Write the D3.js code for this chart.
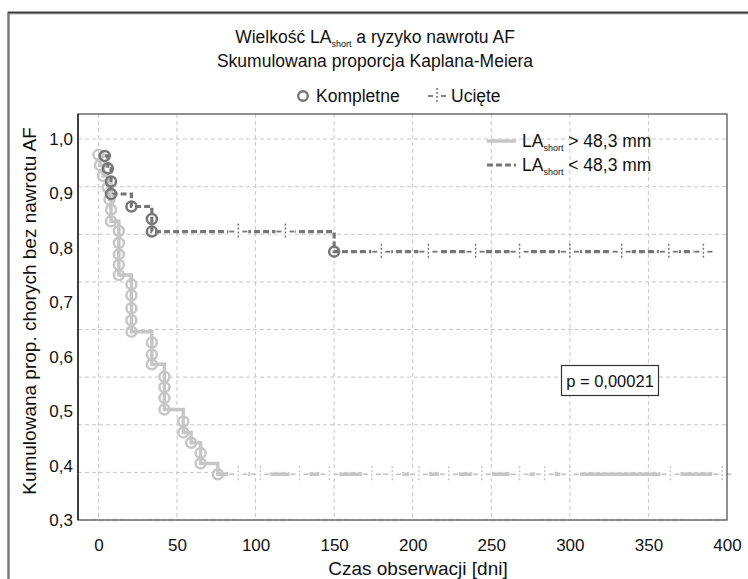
<!DOCTYPE html>
<html>
<head>
<meta charset="utf-8">
<script src="https://cdn.jsdelivr.net/npm/d3@7"></script>
<style>
  body { margin: 0; background: #fff; }
  text { font-family: "Liberation Sans", Arial, sans-serif; fill: #111; }
</style>
</head>
<body>
<svg id="chart" width="748" height="579"></svg>
<script>
// ---- data ----
// group LA_short > 48,3 mm (light, solid)
const lightEventDays = [0, 1, 3, 6, 7, 8, 8, 13, 13, 13, 13, 13, 21, 21, 21, 21, 21,
  34, 34, 34, 42, 42, 42, 42, 54, 54, 59, 65, 65, 76];
const lightEventS = [0.971, 0.952, 0.932, 0.911, 0.889, 0.870, 0.849, 0.831, 0.809, 0.788,
  0.769, 0.750, 0.733, 0.713, 0.689, 0.667, 0.646, 0.626, 0.604, 0.586, 0.563, 0.544,
  0.524, 0.503, 0.481, 0.461, 0.442, 0.423, 0.404, 0.384];
const lightCensorDays = [89, 103, 128, 147, 174, 187, 204, 223, 244, 268, 284, 300, 364, 397];
const lightEnd = 399;

// group LA_short < 48,3 mm (dark, dashed)
const darkEventDays = [4, 6, 8, 8, 21, 34, 34, 150];
const darkEventS = [0.969, 0.946, 0.922, 0.899, 0.876, 0.853, 0.830, 0.793];
const darkCensorDays = [89, 119, 180, 210, 240, 268, 300, 333, 363, 385];
const darkEnd = 386;

const xTicks = [0, 50, 100, 150, 200, 250, 300, 350, 400];
const yTicks = [0.3, 0.4, 0.5, 0.6, 0.7, 0.8, 0.9, 1.0];
const yGrid = [1.0, 0.9125, 0.825, 0.7375, 0.65, 0.5625, 0.475, 0.3875, 0.3];
const pValue = "p = 0,00021";

const lightCol = "#c6c6c6";
const darkCol = "#767676";

const svg = d3.select("#chart");
const fmt = d => d3.format(".1f")(d).replace(".", ",");

const x = d3.scaleLinear().domain([-13, 400]).range([78, 727]);
const y = d3.scaleLinear().domain([0.3, 1.046]).range([520, 114]);

// outer frame
svg.append("rect").attr("x", 8.5).attr("y", 13).attr("width", 760).attr("height", 600)
  .attr("fill", "none").attr("stroke", "#7a7a7a").attr("stroke-width", 2.5);
svg.append("line").attr("x1", 8).attr("x2", 748).attr("y1", 12.2).attr("y2", 12.2)
  .attr("stroke", "#222").attr("stroke-width", 1);

// titles
const t1 = svg.append("text").attr("x", 375).attr("y", 43).attr("text-anchor", "middle")
  .style("font-size", "17.5px");
t1.append("tspan").text("Wielkość LA");
t1.append("tspan").text("short").style("font-size", "9px").attr("dy", 4);
t1.append("tspan").text(" a ryzyko nawrotu AF").attr("dy", -4);
svg.append("text").attr("x", 375).attr("y", 67).attr("text-anchor", "middle")
  .style("font-size", "17.5px").text("Skumulowana proporcja Kaplana-Meiera");

// top legend
svg.append("circle").attr("cx", 303).attr("cy", 96).attr("r", 4.8)
  .attr("fill", "none").attr("stroke", darkCol).attr("stroke-width", 2.4);
svg.append("text").attr("x", 316).attr("y", 102).style("font-size", "17.5px").text("Kompletne");

function censorMark(g, cx, cy, col) {
  g.append("rect").attr("x", cx - 10).attr("y", cy - 3).attr("width", 20).attr("height", 6)
    .attr("fill", "#fff");
  g.append("line").attr("x1", cx - 9).attr("x2", cx - 4).attr("y1", cy).attr("y2", cy)
    .attr("stroke", col).attr("stroke-width", 1.8);
  g.append("line").attr("x1", cx + 4).attr("x2", cx + 9).attr("y1", cy).attr("y2", cy)
    .attr("stroke", col).attr("stroke-width", 1.8);
  g.append("line").attr("x1", cx).attr("x2", cx).attr("y1", cy - 8).attr("y2", cy + 8)
    .attr("stroke", col).attr("stroke-width", 1.5).attr("stroke-dasharray", "2,2");
}
censorMark(svg, 437, 96, darkCol);
svg.append("text").attr("x", 451).attr("y", 102).style("font-size", "17.5px").text("Ucięte");

// plot area
const plot = svg.append("g");
plot.append("rect").attr("x", 78).attr("y", 114).attr("width", 649).attr("height", 406)
  .attr("fill", "#fff");

plot.selectAll(".vgrid").data(xTicks.slice(0, -1)).join("line")
  .attr("x1", d => x(d)).attr("x2", d => x(d)).attr("y1", 114).attr("y2", 520)
  .attr("stroke", "#c8c8c8").attr("stroke-width", 1).attr("stroke-dasharray", "4,3");
plot.selectAll(".hgrid").data(yGrid).join("line")
  .attr("x1", 78).attr("x2", 727).attr("y1", d => y(d)).attr("y2", d => y(d))
  .attr("stroke", "#c8c8c8").attr("stroke-width", 1).attr("stroke-dasharray", "4,3");

// step curve drawn from the first event on (the picture shows no segment at 1,0)
function steps(days, s, end) {
  const pts = days.map((d, i) => [d, s[i]]);
  pts.push([end, s[s.length - 1]]);
  return pts;
}
function valueAt(days, s, t) {
  let v = 1;
  days.forEach((d, i) => { if (d <= t) v = s[i]; });
  return v;
}
const line = d3.line().x(d => x(d[0])).y(d => y(d[1])).curve(d3.curveStepAfter);

// light series
plot.append("path").datum(steps(lightEventDays, lightEventS, lightEnd)).attr("d", line)
  .attr("fill", "none").attr("stroke", lightCol).attr("stroke-width", 3.5);
// dark series
plot.append("path").datum(steps(darkEventDays, darkEventS, darkEnd)).attr("d", line)
  .attr("fill", "none").attr("stroke", darkCol).attr("stroke-width", 3.2)
  .attr("stroke-dasharray", "6,3");

lightCensorDays.forEach(d => censorMark(plot, x(d), y(valueAt(lightEventDays, lightEventS, d)), lightCol));
darkCensorDays.forEach(d => censorMark(plot, x(d), y(valueAt(darkEventDays, darkEventS, d)), darkCol));

plot.selectAll(".lc").data(lightEventDays).join("circle")
  .attr("cx", d => x(d)).attr("cy", (d, i) => y(lightEventS[i])).attr("r", 5)
  .attr("fill", "none").attr("stroke", lightCol).attr("stroke-width", 2.5);
plot.selectAll(".dc").data(darkEventDays).join("circle")
  .attr("cx", d => x(d)).attr("cy", (d, i) => y(darkEventS[i])).attr("r", 5)
  .attr("fill", "none").attr("stroke", darkCol).attr("stroke-width", 2.5);

// border
plot.append("rect").attr("x", 78).attr("y", 114).attr("width", 649).attr("height", 406)
  .attr("fill", "none").attr("stroke", "#555").attr("stroke-width", 1.3);
plot.append("line").attr("x1", 78).attr("x2", 78).attr("y1", 114).attr("y2", 520)
  .attr("stroke", "#111").attr("stroke-width", 1.3);

// axes
const yAxis = svg.append("g").attr("transform", "translate(78,0)")
  .call(d3.axisLeft(y).tickValues(yTicks).tickSize(0).tickPadding(5).tickFormat(fmt));
yAxis.select(".domain").remove();
yAxis.selectAll("text").style("font-size", "17px").style("font-family", "Liberation Sans, Arial, sans-serif").attr("fill", "#111");

const xAxis = svg.append("g").attr("transform", "translate(0,520)")
  .call(d3.axisBottom(x).tickValues(xTicks).tickSize(0).tickPadding(19));
xAxis.select(".domain").remove();
xAxis.selectAll("text").style("font-size", "17px").style("font-family", "Liberation Sans, Arial, sans-serif").attr("fill", "#111");

svg.append("text").attr("x", 418).attr("y", 575).attr("text-anchor", "middle")
  .style("font-size", "19px").text("Czas obserwacji [dni]");
svg.append("text").attr("transform", "translate(36,311) rotate(-90)").attr("text-anchor", "middle")
  .style("font-size", "19px").text("Kumulowana prop. chorych bez nawrotu AF");

// series legend
const leg = [
  { col: lightCol, dash: null, label: " > 48,3 mm", yy: 141 },
  { col: darkCol, dash: "6,3", label: " < 48,3 mm", yy: 165 }
];
leg.forEach(l => {
  svg.append("line").attr("x1", 487).attr("x2", 516).attr("y1", l.yy).attr("y2", l.yy)
    .attr("stroke", l.col).attr("stroke-width", l.dash ? 3.2 : 3.5)
    .attr("stroke-dasharray", l.dash);
  const t = svg.append("text").attr("x", 522).attr("y", l.yy + 6).style("font-size", "17.5px");
  t.append("tspan").text("LA");
  t.append("tspan").text("short").style("font-size", "9px").attr("dy", 4);
  t.append("tspan").text(l.label).attr("dy", -4);
});

// p-value box
svg.append("rect").attr("x", 561.5).attr("y", 365.5).attr("width", 97).attr("height", 30)
  .attr("fill", "#fff").attr("stroke", "#333").attr("stroke-width", 1.2);
svg.append("text").attr("x", 610).attr("y", 386.5).attr("text-anchor", "middle")
  .style("font-size", "16.5px").text(pValue);
</script>
</body>
</html>
